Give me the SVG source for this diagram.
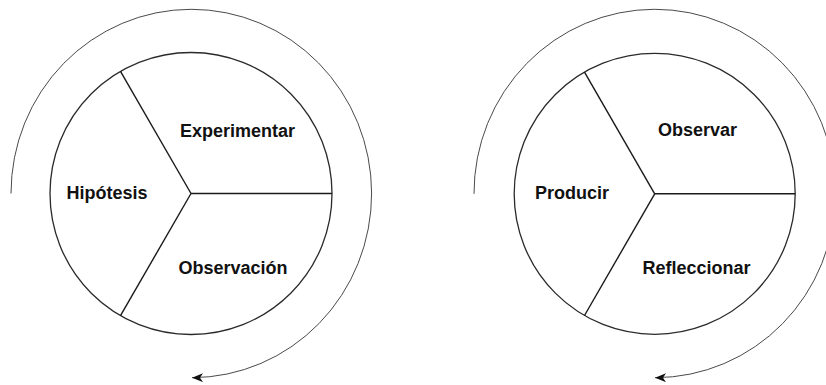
<svg xmlns="http://www.w3.org/2000/svg" width="826" height="385" viewBox="0 0 826 385">
  <style>
    .ring { fill: #ffffff; stroke: #2a2a2a; stroke-width: 1.3; }
    .spoke { stroke: #1a1a1a; stroke-width: 1.4; fill: none; }
    .cycle { fill: none; stroke: #4a4a4a; stroke-width: 1; }
    .lbl { font-family: "Liberation Sans", Arial, sans-serif; font-size: 18px; font-weight: bold; fill: #111111; text-anchor: middle; }
  </style>
  <defs>
    <marker id="arrow" viewBox="0 0 11 9" refX="11" refY="4.5" markerWidth="11" markerHeight="9" markerUnits="userSpaceOnUse" orient="auto">
      <path d="M0,0 L11,4.5 L0,9 L3,4.5 z" fill="#111111"/>
    </marker>
  </defs>
  <rect width="826" height="385" fill="#ffffff"/>

  <g id="connectors">
    <path class="cycle" d="M 11,193.5 A 180.3,184.2 0 1 1 192,377.7" marker-end="url(#arrow)"/>
    <path class="cycle" d="M 474,193.8 A 180.7,184.2 0 1 1 655,377.7" marker-end="url(#arrow)"/>
  </g>

  <g id="wheel-left">
    <circle class="ring" cx="191" cy="193.5" r="141"/>
    <line class="spoke" x1="191" y1="193.5" x2="332" y2="193.5"/>
    <line class="spoke" x1="191" y1="193.5" x2="120.5" y2="71.4"/>
    <line class="spoke" x1="191" y1="193.5" x2="120.5" y2="315.6"/>
  </g>
  <g id="experimentar"><text class="lbl" x="237.5" y="137">Experimentar</text></g>
  <g id="hipotesis"><text class="lbl" x="107" y="199">Hipótesis</text></g>
  <g id="observacion"><text class="lbl" x="233" y="274">Observación</text></g>

  <g id="wheel-right">
    <circle class="ring" cx="654.7" cy="193.8" r="140.5"/>
    <line class="spoke" x1="654.7" y1="193.8" x2="795.2" y2="193.8"/>
    <line class="spoke" x1="654.7" y1="193.8" x2="584.5" y2="72.1"/>
    <line class="spoke" x1="654.7" y1="193.8" x2="584.5" y2="315.5"/>
  </g>
  <g id="observar"><text class="lbl" x="697.5" y="136">Observar</text></g>
  <g id="producir"><text class="lbl" x="572" y="199">Producir</text></g>
  <g id="refleccionar"><text class="lbl" x="696.5" y="274">Refleccionar</text></g>
</svg>
